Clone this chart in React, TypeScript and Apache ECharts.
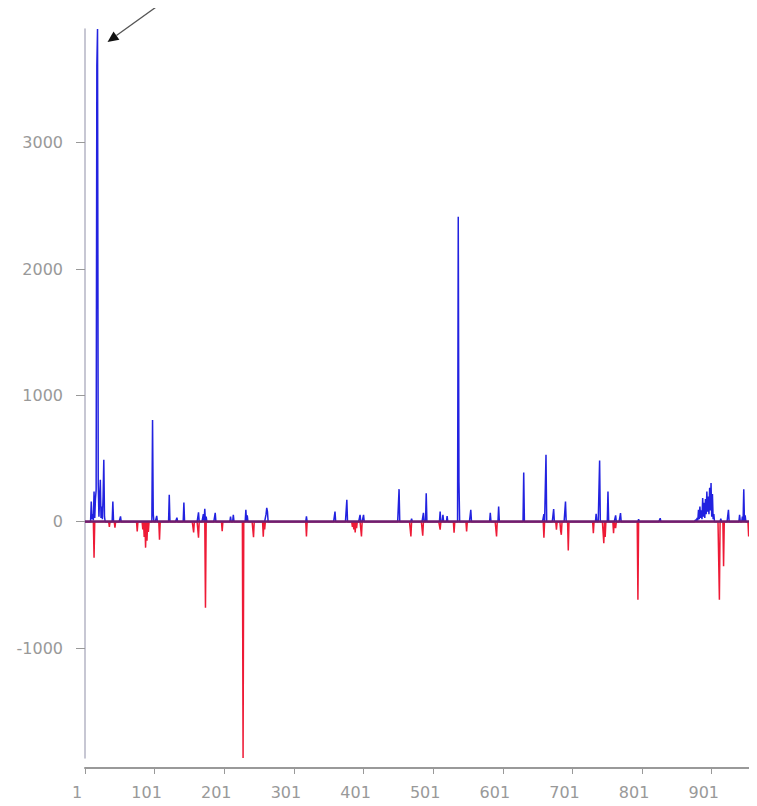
import React, { useEffect, useRef } from "react";
import * as echarts from "echarts";

// Positions 1..966 along the x axis
const COUNT = 966;
const categories: string[] = Array.from({ length: COUNT }, (_, i) => String(i + 1));

// Value axis range and labelled ticks
const yMin = -1870;
const yMax = 3900;
const yTicks = [-1000, 0, 1000, 2000, 3000];

// Positive peaks: [position, value]
const blueSpikes: [number, number][] = [
  [10, 160], [11, 20], [12, 60], [13, 10], [14, 240], [15, 30], [16, 180], [17, 250],
  [18, 3610], [19, 3900], [20, 300], [21, 40], [22, 180], [23, 332], [24, 30],
  [25, 120], [26, 20], [27, 200], [28, 490], [29, 40],
  [41, 160], [52, 42], [98, 806], [99, 60], [104, 47], [122, 213], [133, 32],
  [143, 153], [164, 74], [171, 60], [173, 103], [175, 40], [188, 70],
  [210, 40], [214, 55], [232, 95], [234, 50], [261, 60], [262, 110], [263, 80],
  [319, 42], [360, 81], [377, 174], [396, 55], [401, 55], [452, 258], [470, 25],
  [487, 70], [491, 225], [511, 81], [515, 55], [521, 45], [537, 2414], [538, 319],
  [555, 95], [583, 71], [595, 121], [631, 390], [660, 60], [663, 530], [674, 100],
  [691, 160], [735, 62], [740, 485], [752, 240], [763, 50], [770, 68], [796, 20],
  [827, 28],
  [878, 16], [880, 30], [881, 10], [882, 95], [883, 20], [884, 121], [885, 30],
  [886, 90], [887, 20], [888, 187], [889, 40], [890, 150], [891, 30], [892, 180],
  [893, 60], [894, 240], [895, 80], [896, 200], [897, 60], [898, 268], [899, 90],
  [900, 306], [901, 40], [902, 220], [903, 20], [904, 60],
  [914, 25], [925, 95], [941, 55], [945, 40], [947, 258], [949, 50],
];

// Negative peaks: [position, value]
const redSpikes: [number, number][] = [
  [14, -285], [36, -40], [44, -47], [76, -77], [84, -60], [86, -120], [88, -205],
  [90, -150], [92, -80], [108, -142], [157, -85], [164, -126], [174, -680],
  [198, -75], [228, -1870], [243, -122], [257, -118], [259, -60], [319, -116],
  [385, -40], [387, -60], [389, -85], [391, -50], [398, -116], [469, -116],
  [486, -110], [511, -63], [531, -87], [549, -76], [592, -116], [660, -126],
  [678, -63], [684, -70], [685, -103], [695, -228], [731, -90], [746, -170],
  [748, -120], [760, -90], [763, -50], [795, -617], [912, -617], [918, -353],
  [954, -116],
];

function toSeries(spikes: [number, number][]): number[] {
  const out: number[] = new Array(COUNT).fill(0);
  for (const [pos, v] of spikes) out[pos - 1] = v;
  return out;
}

const blueValues = toSeries(blueSpikes);
const redValues = toSeries(redSpikes);

const axisGrey = "#999";
const font = "DejaVu Sans";

export default function App() {
  const ref = useRef<HTMLDivElement>(null);

  useEffect(() => {
    if (!ref.current) return;
    const chart = echarts.init(ref.current, null, { renderer: "svg" });
    chart.setOption({
      animation: false,
      backgroundColor: "#fff",
      grid: { left: 85, right: 0, top: 29, bottom: 48, containLabel: false },
      xAxis: {
        type: "category",
        data: categories,
        boundaryGap: false,
        offset: 10,
        axisLine: { onZero: false, lineStyle: { color: axisGrey, width: 2 } },
        axisTick: { interval: 99, length: 6, lineStyle: { color: axisGrey } },
        axisLabel: {
          interval: 99,
          color: axisGrey,
          fontSize: 16,
          fontFamily: font,
          margin: 16,
          padding: [0, 16, 0, 0],
        },
        splitLine: { show: false },
      },
      yAxis: {
        type: "value",
        min: yMin,
        max: yMax,
        axisLine: { show: true, lineStyle: { color: "#b4b4c4", width: 1.5 } },
        axisTick: {
          show: true,
          customValues: yTicks,
          length: 9,
          lineStyle: { color: axisGrey },
        },
        axisLabel: {
          customValues: yTicks,
          formatter: (v: number) => String(v),
          color: axisGrey,
          fontSize: 16,
          fontFamily: font,
          margin: 22,
        },
        splitLine: { show: false },
      },
      series: [
        {
          type: "line",
          data: blueValues,
          showSymbol: false,
          lineStyle: { color: "#2222e0", width: 1.5 },
          itemStyle: { color: "#2222e0" },
          z: 2,
        },
        {
          type: "line",
          data: redValues,
          showSymbol: false,
          lineStyle: { color: "#ee1a36", width: 1.5 },
          itemStyle: { color: "#ee1a36" },
          z: 3,
          markLine: {
            silent: true,
            symbol: "none",
            label: { show: false },
            lineStyle: { color: "#6e1e6e", width: 2.5, type: "solid" },
            data: [{ yAxis: 0 }],
          },
        },
      ],
    });

    // Pointer arrow aimed at the tallest peak
    const [px, py] = chart.convertToPixel({ gridIndex: 0 }, [18, yMax]) as number[];
    const tipX = px + 10;
    const tipY = py + 13;
    const ux = -0.81;
    const uy = 0.584;
    const headLen = 11;
    const half = 5;
    const bx = tipX - ux * headLen;
    const by = tipY - uy * headLen;
    chart.setOption({
      graphic: [
        {
          type: "line",
          shape: { x1: tipX + 50, y1: tipY - 36, x2: bx, y2: by },
          style: { stroke: "#555", lineWidth: 1.3 },
        },
        {
          type: "polygon",
          shape: {
            points: [
              [tipX, tipY],
              [bx + uy * half, by - ux * half],
              [bx - uy * half, by + ux * half],
            ],
          },
          style: { fill: "#111" },
        },
      ],
    });

    return () => chart.dispose();
  }, []);

  return <div ref={ref} style={{ width: 757, height: 806, marginLeft: -8, marginTop: -8 }} />;
}
